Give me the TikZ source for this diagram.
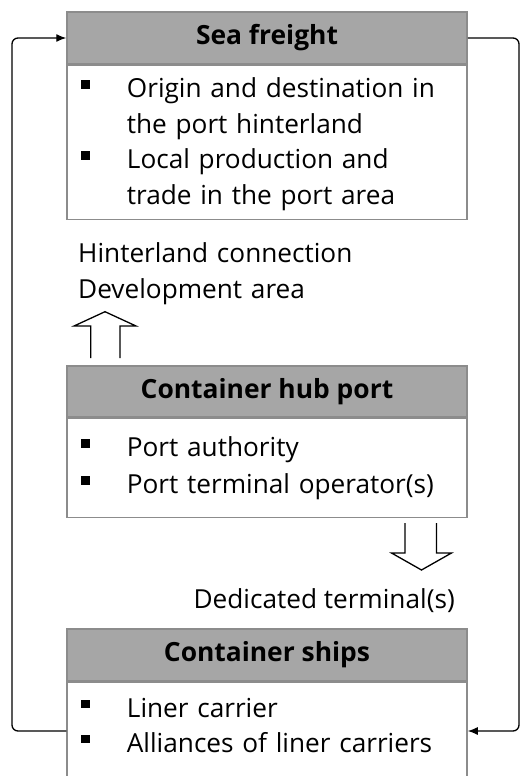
\documentclass[tikz,border=0pt]{standalone}
\usepackage{fontspec}
\setmainfont{Open Sans}
\usetikzlibrary{arrows.meta}
\definecolor{hdrgray}{HTML}{A6A6A6}
\definecolor{boxgray}{HTML}{8C8C8C}
\begin{document}
\begin{tikzpicture}[x=1pt,y=-1pt,
  hdr/.style={draw=boxgray, fill=hdrgray, line width=1.5pt, minimum width=400pt, inner sep=0pt, font=\bfseries\fontsize{26.4}{36}\selectfont},
  bodybox/.style={draw=boxgray, fill=white, line width=1.5pt, minimum width=400pt, inner sep=0pt},
  itemtxt/.style={anchor=base west, inner sep=0pt, text width=340pt, align=left},
  bulsq/.style={fill=black, minimum size=8.5pt, inner sep=0pt},
  plain/.style={inner sep=0pt, font=\fontsize{26.2}{36}\selectfont},
  conn/.style={line width=1.3pt, rounded corners=6pt, -{Latex[length=10pt,width=8pt]}},
  blockarrow/.style={draw=black, line width=1.3pt, fill=white, line join=miter}]
\useasboundingbox (0,0) rectangle (521,776);
\clip (0,0) rectangle (521,776);

% Sea freight
\node[hdr, minimum height=52pt] (seahead) at (267,38) {Sea freight};
\node[bodybox, minimum height=154pt, anchor=north] (seabody) at (seahead.south) {};
\node[itemtxt, font=\fontsize{26.2}{35.5}\selectfont] (seaitem1) at (126.7,97.7)
  {Origin and destination in\\the port hinterland};
\node[itemtxt, font=\fontsize{26.2}{35.5}\selectfont] (seaitem2) at (126.7,168.7)
  {Local production and\\trade in the port area};
\node[bulsq] (seab1) at (85.5,84.7) {};
\node[bulsq] (seab2) at (85.5,155.7) {};

% Hinterland label and up arrow
\node[plain, anchor=base west, text width=340pt, align=left] (hinter) at (78,262)
  {Hinterland connection\\Development area};
\draw[blockarrow] (90.7,358) -- (90.7,326) -- (74,326) -- (105,311.7) -- (136,326) -- (120,326) -- (120,358);

% Container hub port
\node[hdr, minimum height=51pt] (hubhead) at (267,391.5) {Container hub port};
\node[bodybox, minimum height=99pt, anchor=north] (hubbody) at (hubhead.south) {};
\node[itemtxt, font=\fontsize{26.2}{36}\selectfont] (hubitem1) at (126.7,456.7) {Port authority};
\node[itemtxt, font=\fontsize{26.2}{36}\selectfont] (hubitem2) at (126.7,493.3) {Port terminal operator(s)};
\node[bulsq] (hubb1) at (85.5,443.7) {};
\node[bulsq] (hubb2) at (85.5,480.3) {};

% down arrow and label
\draw[blockarrow] (405,523) -- (405,553) -- (391.5,553) -- (421.5,570) -- (451.5,553) -- (436.5,553) -- (436.5,523);
\node[plain, anchor=base east] (dedic) at (455,608) {Dedicated terminal(s)};

% Container ships
\node[hdr, minimum height=52pt] (shipshead) at (267,655) {Container ships};
\node[bodybox, minimum height=140pt, anchor=north] (shipsbody) at (shipshead.south) {};
\node[itemtxt, font=\fontsize{26.2}{35}\selectfont] (shipsitem1) at (126.7,717) {Liner carrier};
\node[itemtxt, font=\fontsize{26.2}{35}\selectfont] (shipsitem2) at (126.7,752) {Alliances of liner carriers};
\node[bulsq] (shipsb1) at (85.5,704) {};
\node[bulsq] (shipsb2) at (85.5,739) {};

% loop connectors
\coordinate (L) at (12,731);
\coordinate (R) at (519,731);
\draw[conn] (shipsbody.west |- L) -- (L) -- (L |- seahead.west) -- (seahead.west);
\draw[conn] (seahead.east) -- (seahead.east -| R) -- (R) -- (shipsbody.east |- R);
\end{tikzpicture}
\end{document}
